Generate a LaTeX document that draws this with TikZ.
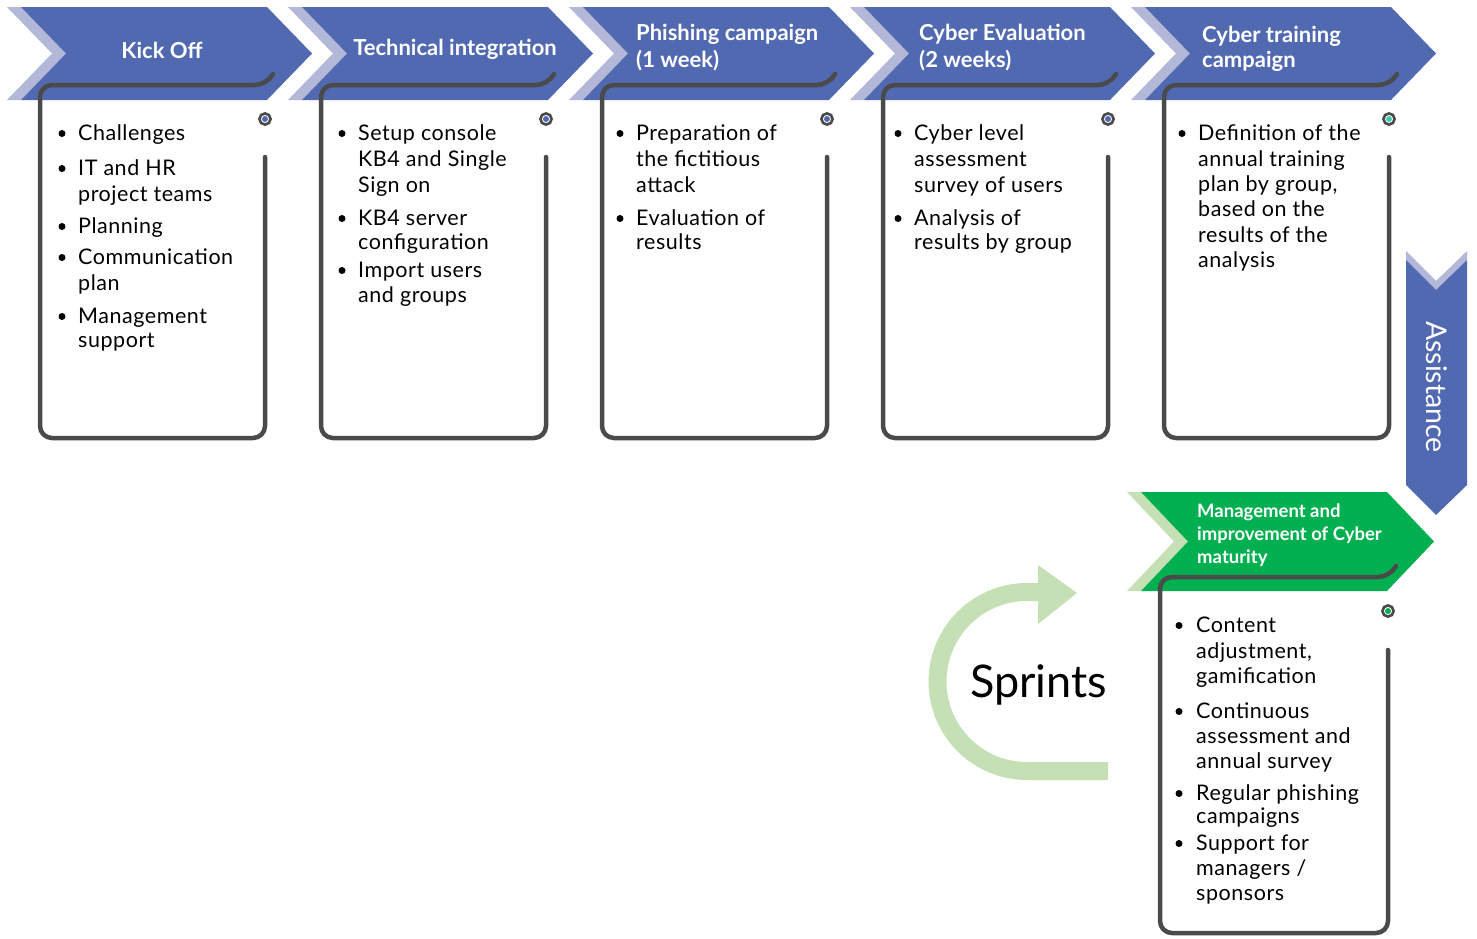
\documentclass[tikz,border=0pt]{standalone}
\usepackage{fontspec}
\setmainfont{Lato}
\definecolor{cblue}{HTML}{5169B1}
\definecolor{clav}{HTML}{B3B8D8}
\definecolor{cgreen}{HTML}{00B050}
\definecolor{clgreen}{HTML}{C5E0B4}
\definecolor{cgray}{HTML}{4A4A4A}
\definecolor{cteal}{HTML}{3DCCA8}
\newcommand\mychev[6]{% x0 y0 h color light depth
 \fill[#5] (#1,#2) -- ++(14,0) -- ++(#6,#3/2) -- ++(-#6,#3/2) -- ++(-14,0) -- ++(#6,-#3/2) -- cycle;
 \fill[#4] ({#1+14},#2) -- ({#1+260},#2) -- ({#1+260+#6},{#2+#3/2}) -- ({#1+260},{#2+#3}) -- ({#1+14},{#2+#3}) -- ({#1+14+#6},{#2+#3/2}) -- cycle;}
\newcommand\mybox[7]{% left right top bottom circley gapy dotcolor
 \draw[boxline] ({#2+8},{#3-11}) -- ({#2+2},#3) -- (#1,#3) -- (#1,#4) -- (#2,#4) -- (#2,#6);
 \draw[cgray, line width=2.6, fill=white] (#2,#5) circle (5.6);
 \fill[#7] (#2,#5) circle (3);}
\begin{document}
\begin{tikzpicture}[x=1pt,y=-1pt,
  body/.style={anchor=base west, inner sep=0, font=\fontsize{21.5}{25}\selectfont\addfontfeature{LetterSpace=2.5}},
  head/.style={anchor=base west, inner sep=0, text=white, font=\fontsize{22}{24}\selectfont\bfseries},
  boxline/.style={draw=cgray, line width=4.5, line cap=round, line join=round, rounded corners=12}]
\useasboundingbox (0,0) rectangle (1477,938);

% chevrons
\foreach \i in {0,...,4}{\mychev{7+281*\i}{7}{93}{cblue}{clav}{45}}
\mychev{1127}{492}{99}{cgreen}{clgreen}{47}

% assistance arrow
\fill[clav] (1406,251) -- (1436,281) -- (1467,251) -- (1467,260) -- (1436,290) -- (1406,260) -- cycle;
\fill[cblue] (1406,260) -- (1436,290) -- (1467,260) -- (1467,485) -- (1436,515) -- (1406,485) -- cycle;
\node[text=white, rotate=-90, inner sep=0, font=\fontsize{28.5}{30}\selectfont] (assist) at (1437,387) {Assistance};

% headings
\node[head, anchor=base] (h1) at (162,58) {Kick Off};
\node[head, anchor=base] (h2) at (455,55) {Technical integration};
\node[head] (h3a) at (636,40) {Phishing campaign};
\node[head] (h3b) at (636,67) {(1 week)};
\node[head] (h4a) at (919,40) {Cyber Evaluation};
\node[head] (h4b) at (919,67) {(2 weeks)};
\node[head] (h5a) at (1202,42) {Cyber training};
\node[head] (h5b) at (1202,67) {campaign};
\begin{scope}[every node/.style={head, font=\fontsize{18.5}{20}\selectfont\bfseries}]
\node (g1) at (1197,517) {Management and};
\node (g2) at (1197,540) {improvement of Cyber};
\node (g3) at (1197,563) {maturity};
\end{scope}

% boxes
\foreach \i/\c in {0/cblue,1/cblue,2/cblue,3/cblue,4/cteal}{
  \mybox{40+281*\i}{265+281*\i}{85}{438}{119}{157}{\c}}
\mybox{1160}{1388}{577}{933}{611}{650}{cgreen}

% box texts
\foreach \y/\t in {140/Challenges,175/IT and HR,201/project teams,233/Planning,264/Communication,290/plan,323/Management,347/support}
  \node[body] (t1-\y) at (78,\y) {\t};
\foreach \y in {140,175,233,264,323} \fill (62,\y-6.5) circle (3.5);

\foreach \y/\t in {140/Setup console,166/KB4 and Single,192/Sign on,225/KB4 server,249/configuration,277/Import users,302/and groups}
  \node[body] (t2-\y) at (358,\y) {\t};
\foreach \y in {140,225,277} \fill (342,\y-6.5) circle (3.5);

\foreach \y/\t in {140/Preparation of,166/the fictitious,192/attack,225/Evaluation of,249/results}
  \node[body] (t3-\y) at (636,\y) {\t};
\foreach \y in {140,225} \fill (620,\y-6.5) circle (3.5);

\foreach \y/\t in {140/Cyber level,166/assessment,192/survey of users,225/Analysis of,249/results by group}
  \node[body] (t4-\y) at (914,\y) {\t};
\foreach \y in {140,225} \fill (898,\y-6.5) circle (3.5);

\foreach \y/\t in {140/Definition of the,166/annual training,191/{plan by group,},216/based on the,242/results of the,267/analysis}
  \node[body] (t5-\y) at (1198,\y) {\t};
\fill (1182,140-6.5) circle (3.5);

\foreach \y/\t in {632/Content,658/{adjustment,},683/gamification,718/Continuous,743/assessment and,768/annual survey,800/Regular phishing,823/campaigns,850/Support for,875/{managers /},900/sponsors}
  \node[body] (t6-\y) at (1196,\y) {\t};
\foreach \y in {632,718,800,850} \fill (1179,\y-6.5) circle (3.5);

% sprints
\draw[clgreen, line width=18] (1108,771) -- (1027,771) arc[start angle=90, end angle=270, radius=89.5] -- (1040,592);
\fill[clgreen] (1038,565) -- (1077,593) -- (1038,624) -- cycle;
\node[anchor=base west, inner sep=0, font=\fontsize{45}{50}\selectfont] (spr) at (970,697) {Sprints};
\end{tikzpicture}
\end{document}
